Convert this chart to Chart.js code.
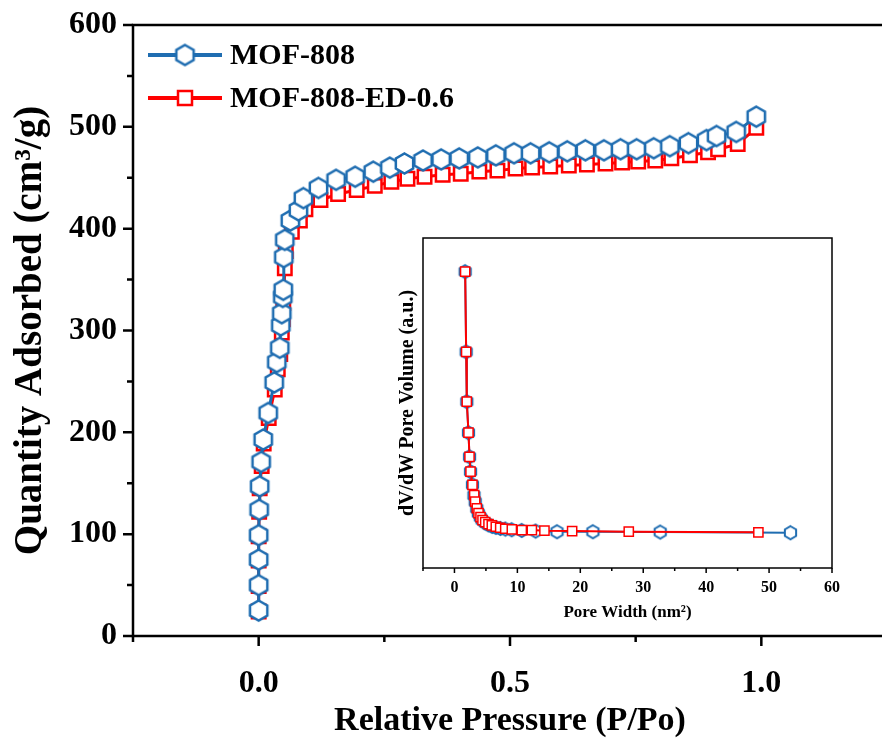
<!DOCTYPE html>
<html>
<head>
<meta charset="utf-8">
<script src="https://cdn.jsdelivr.net/npm/chart.js@4.4.0/dist/chart.umd.min.js"></script>
<style>
  html, body { margin: 0; padding: 0; background: #fff; }
  #wrap { position: relative; width: 882px; height: 742px; overflow: hidden; }
  #main { position: absolute; left: 0; top: 0; width: 900px; height: 742px; }
  #inset { position: absolute; left: 380px; top: 225px; width: 470px; height: 410px; }
</style>
</head>
<body>
<div id="wrap">
  <canvas id="main" width="900" height="742"></canvas>
  <canvas id="inset" width="470" height="410"></canvas>
</div>
<script>
// isotherm, MOF-808
const mofPressure = [0.000, 0.000, 0.000, 0.000, 0.001, 0.002, 0.005, 0.009, 0.019, 0.031, 0.036, 0.042, 0.044, 0.046, 0.048, 0.049, 0.050, 0.052, 0.063, 0.079, 0.089, 0.119, 0.154, 0.192, 0.228, 0.261, 0.290, 0.327, 0.363, 0.399, 0.436, 0.472, 0.508, 0.541, 0.578, 0.614, 0.650, 0.687, 0.720, 0.752, 0.786, 0.818, 0.855, 0.891, 0.911, 0.950, 0.990]
const mofQuantity = [25, 50, 75, 99, 124, 147, 171, 193, 219, 249, 269, 283, 305, 317, 333, 340, 372, 389, 408, 418, 430, 440, 448, 451, 456, 460, 464, 467, 468, 469, 470, 472, 474, 474, 475, 476, 477, 477, 478, 478, 479, 481, 484, 487, 491, 495, 510]

// isotherm, MOF-808-ED-0.6
const edPressure = [0.000, 0.000, 0.000, 0.000, 0.001, 0.002, 0.006, 0.010, 0.020, 0.032, 0.038, 0.043, 0.046, 0.048, 0.049, 0.050, 0.052, 0.054, 0.066, 0.082, 0.093, 0.123, 0.158, 0.195, 0.231, 0.264, 0.296, 0.330, 0.366, 0.402, 0.439, 0.475, 0.511, 0.544, 0.580, 0.617, 0.653, 0.690, 0.723, 0.755, 0.789, 0.821, 0.858, 0.894, 0.914, 0.953, 0.990]
const edQuantity = [24, 49, 74, 98, 122, 145, 167, 189, 214, 242, 262, 277, 298, 311, 327, 335, 361, 378, 397, 408, 419, 428, 434, 438, 442, 446, 449, 451, 453, 454, 456, 457, 459, 460, 461, 462, 463, 464, 465, 466, 467, 469, 472, 475, 478, 483, 499]

// pore size distribution (inset)
const mofPoreWidth = [1.70, 1.86, 1.96, 2.23, 2.39, 2.55, 2.86, 3.10, 3.30, 3.55, 3.80, 4.10, 4.40, 4.90, 5.40, 6.00, 6.60, 7.30, 8.10, 9.10, 10.7, 12.9, 16.3, 22.0, 32.7, 53.4]
const mofPoreVolume = [89.8, 65.5, 50.4, 41.0, 33.7, 29.2, 25.2, 22.0, 20.0, 18.0, 16.6, 15.4, 14.5, 13.7, 13.1, 12.6, 12.3, 12.0, 11.8, 11.6, 11.4, 11.2, 11.0, 11.0, 10.9, 10.7]
const edPoreWidth = [1.70, 1.86, 1.96, 2.23, 2.39, 2.55, 2.86, 3.14, 3.29, 3.55, 3.82, 4.14, 4.46, 4.89, 5.41, 5.94, 6.57, 7.27, 8.07, 9.12, 10.7, 12.3, 14.3, 18.7, 27.7, 48.3]
const edPoreVolume = [89.8, 65.5, 50.4, 41.0, 33.7, 29.2, 25.2, 22.1, 20.1, 18.1, 16.6, 15.4, 14.5, 13.9, 13.3, 12.9, 12.5, 12.2, 11.9, 11.7, 11.5, 11.5, 11.3, 11.2, 11.0, 10.8]

// tick labels
const pressureTicks = [0, 0.5, 1.0]
const quantityTicks = [0, 100, 200, 300, 400, 500, 600]
const poreWidthTicks = [0, 10, 20, 30, 40, 50, 60]

const BLUE = "#1f6db1"
const RED = "#ff0000"
const SERIF = "'Liberation Serif', 'Times New Roman', serif"

function hexagon(r, lw, color) {
  const s = Math.ceil(2 * r + lw + 2)
  const c = document.createElement("canvas")
  c.width = s; c.height = s
  const g = c.getContext("2d")
  g.beginPath()
  for (let k = 0; k < 6; k++) {
    const t = Math.PI / 180 * (60 * k - 90)
    g.lineTo(s / 2 + r * Math.cos(t), s / 2 + r * Math.sin(t))
  }
  g.closePath()
  g.fillStyle = "#fff"; g.fill()
  g.lineWidth = lw; g.strokeStyle = color; g.stroke()
  return c
}

const points = (xs, ys) => xs.map((x, i) => ({ x, y: ys[i] }))

// minor ticks halfway between majors, plus one step past each end
function minors(major, min, max) {
  const step = major[1] - major[0]
  const out = []
  for (let v = major[0] - step / 2; v <= max + 1e-9; v += step) if (v >= min - 1e-9) out.push(v)
  return out
}

// frame + outward tick marks
function framePlugin(cfg) {
  return {
    id: "frame",
    afterDraw(chart) {
      const { ctx, chartArea: a, scales: { x, y } } = chart
      ctx.save()
      ctx.strokeStyle = "#000"
      ctx.lineWidth = cfg.lw
      ctx.strokeRect(a.left, a.top, a.right - a.left, a.bottom - a.top)
      ctx.beginPath()
      cfg.xMajor.forEach(v => { const p = x.getPixelForValue(v); ctx.moveTo(p, a.bottom); ctx.lineTo(p, a.bottom + cfg.major) })
      cfg.xMinor.forEach(v => { const p = x.getPixelForValue(v); ctx.moveTo(p, a.bottom); ctx.lineTo(p, a.bottom + cfg.minor) })
      if (cfg.yMajor) {
        cfg.yMajor.forEach(v => { const p = y.getPixelForValue(v); ctx.moveTo(a.left, p); ctx.lineTo(a.left - cfg.major, p) })
        cfg.yMinor.forEach(v => { const p = y.getPixelForValue(v); ctx.moveTo(a.left, p); ctx.lineTo(a.left - cfg.minor, p) })
      }
      ctx.stroke()
      ctx.restore()
    }
  }
}

// legend: line with marker, then label
const legendPlugin = {
  id: "isoLegend",
  afterDraw(chart) {
    const { ctx } = chart
    const rows = [
      { label: "MOF-808", color: BLUE, y: 55, marker: "hex" },
      { label: "MOF-808-ED-0.6", color: RED, y: 98, marker: "rect" }
    ]
    ctx.save()
    rows.forEach(r => {
      ctx.strokeStyle = r.color
      ctx.lineWidth = 4
      ctx.beginPath(); ctx.moveTo(148, r.y); ctx.lineTo(222, r.y); ctx.stroke()
      if (r.marker === "hex") {
        const h = hexagon(10, 2.5, BLUE)
        ctx.drawImage(h, 185 - h.width / 2, r.y - h.height / 2)
      } else {
        ctx.fillStyle = "#fff"; ctx.lineWidth = 2.5
        ctx.fillRect(178, r.y - 7, 14, 14); ctx.strokeRect(178, r.y - 7, 14, 14)
      }
      ctx.fillStyle = "#000"
      ctx.font = "bold 30px " + SERIF
      ctx.textBaseline = "middle"
      ctx.fillText(r.label, 230, r.y + 1)
    })
    ctx.restore()
  }
}

function initIsothermChart() {
  new Chart(document.getElementById("main"), {
    type: "scatter",
    data: {
      datasets: [
        {
          label: "MOF-808",
          data: points(mofPressure, mofQuantity),
          showLine: true,
          borderColor: BLUE,
          borderWidth: 3,
          pointStyle: hexagon(10, 2.5, BLUE),
          pointRadius: 10
        },
        {
          label: "MOF-808-ED-0.6",
          data: points(edPressure, edQuantity),
          showLine: true,
          borderColor: RED,
          backgroundColor: "#fff",
          borderWidth: 3,
          pointStyle: "rect",
          pointRadius: 9.5,
          pointBorderWidth: 2.5,
          pointBorderColor: RED,
          pointBackgroundColor: "#fff"
        }
      ]
    },
    options: {
      responsive: false,
      animation: false,
      layout: { padding: { top: 25, right: 8, left: 0, bottom: 0 } },
      plugins: { legend: { display: false }, tooltip: { enabled: false } },
      scales: {
        x: {
          type: "linear", min: -0.25, max: 1.25,
          grid: { display: false, drawTicks: false },
          border: { display: false },
          afterBuildTicks: s => { s.ticks = pressureTicks.map(v => ({ value: v })) },
          afterFit: s => { s.height = 106; s.paddingLeft = 0; s.paddingRight = 0 },
          ticks: { padding: 29, color: "#000", font: { family: SERIF, size: 32, weight: "bold" }, callback: v => v.toFixed(1) },
          title: { display: true, text: "Relative Pressure (P/Po)", color: "#000", padding: { top: 0, bottom: 0 }, font: { family: SERIF, size: 34, weight: "bold" } }
        },
        y: {
          type: "linear", min: 0, max: 600,
          grid: { display: false, drawTicks: false },
          border: { display: false },
          afterBuildTicks: s => { s.ticks = quantityTicks.map(v => ({ value: v })) },
          afterFit: s => { s.width = 133; s.paddingTop = 0; s.paddingBottom = 0 },
          ticks: { padding: 16, color: "#000", font: { family: SERIF, size: 32, weight: "bold" } },
          title: { display: true, text: "Quantity Adsorbed (cm³/g)", color: "#000", padding: { top: 8, bottom: 0 }, font: { family: SERIF, size: 39, weight: "bold" } }
        }
      }
    },
    plugins: [
      framePlugin({ lw: 2.5, major: 10, minor: 6, xMajor: pressureTicks, xMinor: minors(pressureTicks, -0.25, 1.25), yMajor: quantityTicks, yMinor: minors(quantityTicks, 0, 600) }),
      legendPlugin
    ]
  })
}

function initPoreChart() {
  new Chart(document.getElementById("inset"), {
    type: "scatter",
    data: {
      datasets: [
        {
          label: "MOF-808-ED-0.6",
          data: points(edPoreWidth, edPoreVolume),
          showLine: true,
          borderColor: RED,
          borderWidth: 2,
          pointStyle: "rect",
          pointRadius: 6.5,
          pointBorderWidth: 1.5,
          pointBorderColor: RED,
          pointBackgroundColor: "#fff"
        },
        {
          label: "MOF-808",
          data: points(mofPoreWidth, mofPoreVolume),
          showLine: true,
          borderColor: BLUE,
          borderWidth: 2,
          pointStyle: hexagon(6.5, 2, BLUE),
          pointRadius: 7
        }
      ]
    },
    options: {
      responsive: false,
      animation: false,
      layout: { padding: { top: 13, right: 17, left: 0, bottom: 0 } },
      plugins: { legend: { display: false }, tooltip: { enabled: false } },
      scales: {
        x: {
          type: "linear", min: -5, max: 60,
          grid: { display: false, drawTicks: false },
          border: { display: false },
          afterBuildTicks: s => { s.ticks = poreWidthTicks.map(v => ({ value: v })) },
          afterFit: s => { s.height = 67 },
          ticks: { padding: 10, color: "#000", font: { family: SERIF, size: 16, weight: "bold" } },
          title: { display: true, text: "Pore Width (nm²)", color: "#000", padding: { top: 0, bottom: 12 }, font: { family: SERIF, size: 17, weight: "bold" } }
        },
        y: {
          type: "linear", min: 0, max: 100,
          grid: { display: false, drawTicks: false },
          border: { display: false },
          afterFit: s => { s.width = 43 },
          ticks: { display: false },
          title: { display: true, text: "dV/dW Pore Volume (a.u.)", color: "#000", padding: { top: 16, bottom: 0 }, font: { family: SERIF, size: 20, weight: "bold" } }
        }
      }
    },
    plugins: [
      framePlugin({ lw: 1.5, major: 5, minor: 3, xMajor: poreWidthTicks, xMinor: minors(poreWidthTicks, -5, 60) })
    ]
  })
}

initIsothermChart()
initPoreChart()
</script>
</body>
</html>
